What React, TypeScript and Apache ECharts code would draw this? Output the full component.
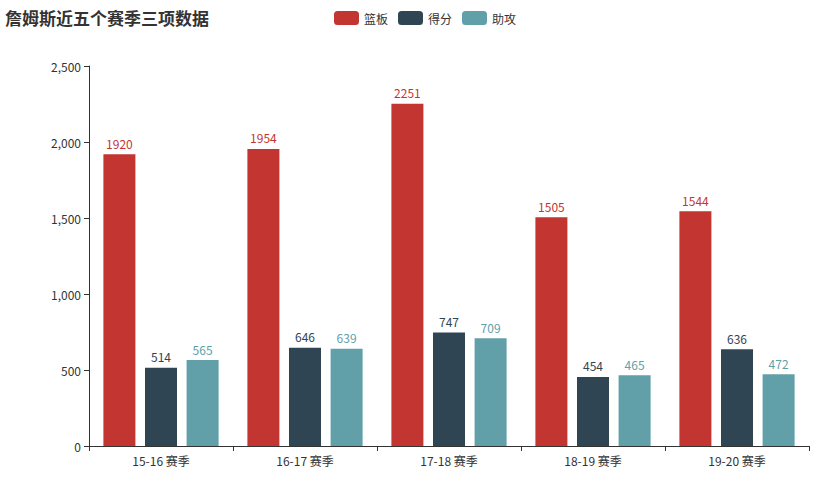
import { useRef, useEffect } from "react";
import * as echarts from "echarts";

const seasons = ["15-16 赛季", "16-17 赛季", "17-18 赛季", "18-19 赛季", "19-20 赛季"];
const rebounds = [1920, 1954, 2251, 1505, 1544];
const points = [514, 646, 747, 454, 636];
const assists = [565, 639, 709, 465, 472];

const colors = ["#c23531", "#2f4554", "#61a0a8"];
const font = "'Microsoft YaHei', 'Noto Sans CJK SC', sans-serif";

export default function App() {
  const chartRef = useRef<HTMLDivElement>(null);

  useEffect(() => {
    document.body.style.margin = "0";
    if (!chartRef.current) return;
    const chart = echarts.init(chartRef.current, null, { renderer: "svg" });

    const bar = (name: string, data: number[], color: string) => ({
      name,
      type: "bar" as const,
      data,
      barGap: "30%",
      barCategoryGap: "20%",
      itemStyle: { color },
      label: { show: true, position: "top" as const, color, fontSize: 12, fontFamily: font },
    });

    chart.setOption({
      animation: false,
      color: colors,
      textStyle: { fontFamily: font },
      title: {
        text: "詹姆斯近五个赛季三项数据",
        left: 0,
        top: 4,
        textStyle: { fontSize: 17, fontWeight: "bold", color: "#333", fontFamily: font },
      },
      legend: {
        data: ["篮板", "得分", "助攻"],
        left: 329,
        top: 6,
        itemWidth: 25,
        itemHeight: 14,
        itemGap: 10,
        textStyle: { color: "#333", fontSize: 12, fontFamily: font },
      },
      grid: { left: 89, right: 14, top: 66, bottom: 35 },
      xAxis: {
        type: "category",
        data: seasons,
        axisLine: { lineStyle: { color: "#333" } },
        axisTick: { show: true },
        axisLabel: { color: "#333", fontSize: 12 },
      },
      yAxis: {
        type: "value",
        min: 0,
        max: 2500,
        interval: 500,
        axisLine: { show: true, lineStyle: { color: "#333" } },
        axisTick: { show: true },
        splitLine: { show: false },
        axisLabel: {
          color: "#333",
          fontSize: 12,
          formatter: (v: number) => v.toLocaleString("en-US"),
        },
      },
      series: [
        bar("篮板", rebounds, colors[0]),
        bar("得分", points, colors[1]),
        bar("助攻", assists, colors[2]),
      ],
    });

    return () => chart.dispose();
  }, []);

  return <div ref={chartRef} style={{ width: 823, height: 481 }} />;
}
